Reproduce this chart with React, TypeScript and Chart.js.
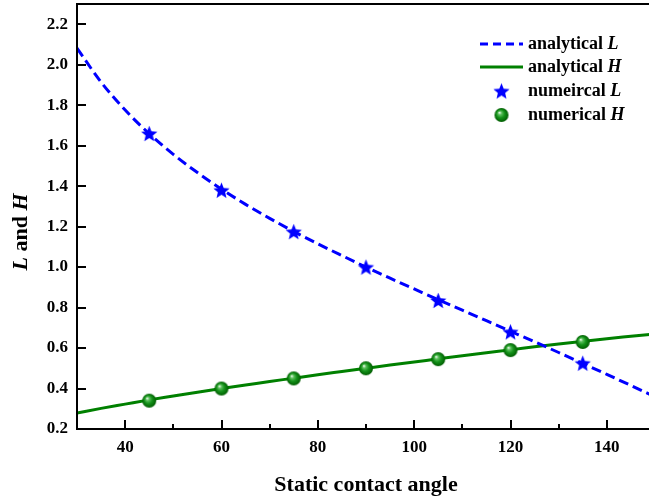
import React, { useEffect, useRef } from "react";
import { Chart, registerables } from "chart.js";

Chart.register(...registerables);

// Contact angle (degrees) along the analytical curves
const angles = [30, 35, 40, 45, 50, 55, 60, 65, 70, 75, 80, 85, 90, 95, 100, 105, 110, 115, 120, 125, 130, 135, 140, 145, 150];
const analyticalL = [2.082, 1.914, 1.776, 1.659, 1.557, 1.467, 1.385, 1.310, 1.241, 1.176, 1.115, 1.057, 1.0, 0.945, 0.892, 0.839, 0.787, 0.735, 0.683, 0.631, 0.578, 0.524, 0.47, 0.415, 0.359];
const analyticalH = [0.279, 0.302, 0.323, 0.344, 0.363, 0.382, 0.4, 0.417, 0.435, 0.451, 0.468, 0.484, 0.5, 0.516, 0.531, 0.547, 0.562, 0.577, 0.591, 0.606, 0.62, 0.633, 0.646, 0.658, 0.67];

// Simulation results
const numAngles = [45, 60, 75, 90, 105, 120, 135];
const numericalL = [1.66, 1.38, 1.175, 1.0, 0.835, 0.68, 0.525];
const numericalH = [0.34, 0.4, 0.45, 0.5, 0.545, 0.59, 0.63];

// Axis ticks
const xTickValues = [30, 40, 50, 60, 70, 80, 90, 100, 110, 120, 130, 140, 150];
const xLabelValues = [40, 60, 80, 100, 120, 140];
const yTickValues = [0.2, 0.4, 0.6, 0.8, 1.0, 1.2, 1.4, 1.6, 1.8, 2.0, 2.2];

const BLUE = "#0000ff";
const GREEN = "#008000";
const SERIF = '"Liberation Serif", "Times New Roman", serif';

function makeStar(outer: number, inner: number, color: string): HTMLCanvasElement {
  const size = Math.ceil(outer * 2 + 2);
  const c = document.createElement("canvas");
  c.width = size;
  c.height = size;
  const ctx = c.getContext("2d")!;
  const cx = size / 2;
  const cy = size / 2 + 0.8;
  ctx.beginPath();
  for (let i = 0; i < 10; i++) {
    const r = i % 2 === 0 ? outer : inner;
    const a = -Math.PI / 2 + (i * Math.PI) / 5;
    ctx.lineTo(cx + r * Math.cos(a), cy + r * Math.sin(a));
  }
  ctx.closePath();
  ctx.fillStyle = color;
  ctx.fill();
  return c;
}

function makeBall(r: number): HTMLCanvasElement {
  const size = Math.ceil(r * 2 + 2);
  const c = document.createElement("canvas");
  c.width = size;
  c.height = size;
  const ctx = c.getContext("2d")!;
  const cx = size / 2;
  const cy = size / 2;
  const g = ctx.createRadialGradient(cx - r * 0.3, cy - r * 0.35, r * 0.05, cx, cy, r);
  g.addColorStop(0, "#e8f8e8");
  g.addColorStop(0.22, "#5cbf5c");
  g.addColorStop(0.55, "#14921a");
  g.addColorStop(1, "#005c00");
  ctx.beginPath();
  ctx.arc(cx, cy, r, 0, Math.PI * 2);
  ctx.fillStyle = g;
  ctx.fill();
  return c;
}

type Piece = { text: string; italic?: boolean };

function drawPieces(ctx: CanvasRenderingContext2D, pieces: Piece[], size: number, x: number, y: number, align: "left" | "center") {
  const fontOf = (p: Piece) => `${p.italic ? "italic " : ""}bold ${size}px ${SERIF}`;
  let total = 0;
  const widths = pieces.map((p) => {
    ctx.font = fontOf(p);
    const w = ctx.measureText(p.text).width;
    total += w;
    return w;
  });
  let cur = align === "center" ? x - total / 2 : x;
  ctx.textAlign = "left";
  ctx.textBaseline = "middle";
  pieces.forEach((p, i) => {
    ctx.font = fontOf(p);
    ctx.fillText(p.text, cur, y);
    cur += widths[i];
  });
}

export default function App() {
  const canvasRef = useRef<HTMLCanvasElement | null>(null);

  useEffect(() => {
    const canvas = canvasRef.current;
    if (!canvas) return;
    const star = makeStar(8.5, 3.8, BLUE);
    const ball = makeBall(7);

    const framePlugin = {
      id: "frameAndLabels",
      afterDraw(chart: any) {
        const { ctx, chartArea, scales } = chart;
        const { left, right, top, bottom } = chartArea;
        ctx.save();
        ctx.strokeStyle = "#000";
        ctx.lineWidth = 2;
        ctx.beginPath();
        ctx.moveTo(left, top);
        ctx.lineTo(right, top);
        ctx.moveTo(left, top - 1);
        ctx.lineTo(left, bottom + 1);
        ctx.moveTo(left - 1, bottom);
        ctx.lineTo(right, bottom);
        ctx.moveTo(right, top);
        ctx.lineTo(right, bottom);
        // inward tick marks
        yTickValues.forEach((v) => {
          const y = Math.round(scales.y.getPixelForValue(v));
          ctx.moveTo(left, y);
          ctx.lineTo(left + 9, y);
        });
        xTickValues.forEach((v) => {
          const x = Math.round(scales.x.getPixelForValue(v));
          const len = v % 20 === 0 ? 9 : 5;
          ctx.moveTo(x, bottom);
          ctx.lineTo(x, bottom - len);
        });
        ctx.stroke();

        ctx.fillStyle = "#000";
        // axis titles
        drawPieces(ctx, [{ text: "Static contact angle" }], 22, (left + right) / 2, 485, "center");
        ctx.save();
        ctx.translate(21, 232);
        ctx.rotate(-Math.PI / 2);
        drawPieces(ctx, [{ text: "L", italic: true }, { text: " and " }, { text: "H", italic: true }], 22, 0, 0, "center");
        ctx.restore();

        // legend
        const lx0 = 480;
        const lx1 = 523;
        const tx = 528;
        const rows = [44, 67, 91, 115];
        ctx.lineWidth = 3;
        ctx.strokeStyle = BLUE;
        ctx.setLineDash([8, 5]);
        ctx.beginPath();
        ctx.moveTo(lx0, rows[0]);
        ctx.lineTo(lx1, rows[0]);
        ctx.stroke();
        ctx.setLineDash([]);
        ctx.strokeStyle = GREEN;
        ctx.beginPath();
        ctx.moveTo(lx0, rows[1]);
        ctx.lineTo(lx1, rows[1]);
        ctx.stroke();
        const mx = (lx0 + lx1) / 2;
        ctx.drawImage(star, mx - star.width / 2, rows[2] - star.height / 2);
        ctx.drawImage(ball, mx - ball.width / 2, rows[3] - ball.height / 2);
        ctx.fillStyle = "#000";
        drawPieces(ctx, [{ text: "analytical " }, { text: "L", italic: true }], 18, tx, rows[0], "left");
        drawPieces(ctx, [{ text: "analytical " }, { text: "H", italic: true }], 18, tx, rows[1], "left");
        drawPieces(ctx, [{ text: "numeircal " }, { text: "L", italic: true }], 18, tx, rows[2], "left");
        drawPieces(ctx, [{ text: "numerical " }, { text: "H", italic: true }], 18, tx, rows[3], "left");
        ctx.restore();
      },
    };

    const tickFont = { family: SERIF, size: 17, weight: "bold" as const };

    const chart = new Chart(canvas, {
      type: "line",
      data: {
        datasets: [
          {
            label: "numeircal L",
            data: numAngles.map((a, i) => ({ x: a, y: numericalL[i] })),
            showLine: false,
            pointStyle: star,
            pointRadius: 6,
            order: 0,
          },
          {
            label: "numerical H",
            data: numAngles.map((a, i) => ({ x: a, y: numericalH[i] })),
            showLine: false,
            pointStyle: ball,
            pointRadius: 6,
            order: 0,
          },
          {
            label: "analytical L",
            data: angles.map((a, i) => ({ x: a, y: analyticalL[i] })),
            borderColor: BLUE,
            borderWidth: 3,
            borderDash: [10, 5],
            pointRadius: 0,
            cubicInterpolationMode: "monotone",
            fill: false,
            order: 1,
          },
          {
            label: "analytical H",
            data: angles.map((a, i) => ({ x: a, y: analyticalH[i] })),
            borderColor: GREEN,
            borderWidth: 3,
            pointRadius: 0,
            cubicInterpolationMode: "monotone",
            fill: false,
            order: 1,
          },
        ],
      },
      options: {
        responsive: false,
        animation: false,
        layout: { autoPadding: false, padding: { top: 4, right: 5, left: 0, bottom: 0 } },
        plugins: {
          legend: { display: false },
          tooltip: { enabled: false },
        },
        scales: {
          x: {
            type: "linear",
            min: 30,
            max: 150,
            afterBuildTicks: (s: any) => {
              s.ticks = xTickValues.map((v) => ({ value: v }));
            },
            afterFit: (s: any) => {
              s.height = 69;
              s.paddingLeft = 0;
              s.paddingRight = 0;
            },
            ticks: {
              callback: (v: any) => (xLabelValues.includes(Number(v)) ? String(v) : ""),
              font: tickFont,
              color: "#000",
              padding: 8,
              maxRotation: 0,
              autoSkip: false,
            },
            grid: { display: false, drawTicks: false },
            border: { display: false },
          },
          y: {
            type: "linear",
            min: 0.2,
            max: 2.3,
            afterBuildTicks: (s: any) => {
              s.ticks = yTickValues.map((v) => ({ value: v }));
            },
            afterFit: (s: any) => {
              s.width = 77;
              s.paddingTop = 0;
              s.paddingBottom = 0;
            },
            ticks: {
              callback: (v: any) => Number(v).toFixed(1),
              font: tickFont,
              color: "#000",
              padding: 9,
              autoSkip: false,
            },
            grid: { display: false, drawTicks: false },
            border: { display: false },
          },
        },
      },
      plugins: [framePlugin],
    });

    return () => chart.destroy();
  }, []);

  return (
    <div
      style={{
        position: "fixed",
        left: 0,
        top: 0,
        width: 649,
        height: 498,
        overflow: "hidden",
        background: "#fff",
      }}
    >
      <canvas ref={canvasRef} width={660} height={498} style={{ display: "block" }} />
    </div>
  );
}
